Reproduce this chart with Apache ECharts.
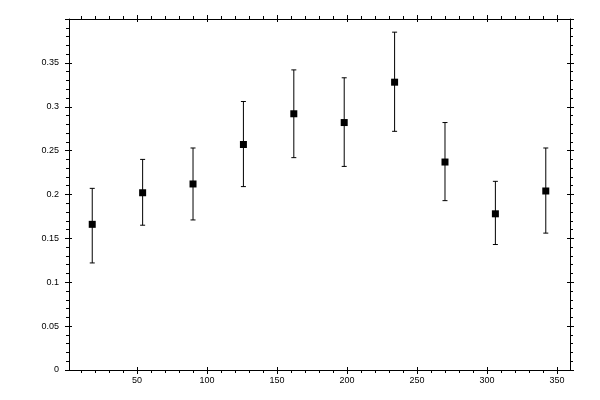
<!DOCTYPE html>
<html>
<head>
<meta charset="utf-8">
<script src="https://cdn.jsdelivr.net/npm/echarts@6/dist/echarts.min.js"></script>
<style>html,body{margin:0;padding:0;background:#fff}#c{width:600px;height:400px}</style>
</head>
<body>
<div id="c"></div>
<script>
// Data
const xValues = [18, 54, 90, 126, 162, 198, 234, 270, 306, 342];
const yValues = [0.166, 0.202, 0.212, 0.257, 0.292, 0.282, 0.328, 0.237, 0.178, 0.204];
const yHigh   = [0.207, 0.240, 0.253, 0.306, 0.342, 0.333, 0.385, 0.282, 0.215, 0.253];
const yLow    = [0.122, 0.165, 0.171, 0.209, 0.242, 0.232, 0.272, 0.193, 0.143, 0.156];
const xMajorTicks = [50, 100, 150, 200, 250, 300, 350];
const xMinorTicks = [10,20,30,40,50,60,70,80,90,100,110,120,130,140,150,160,170,180,190,200,210,220,230,240,250,260,270,280,290,300,310,320,330,340,350];
const X_MIN = 1.4, X_MAX = 359.3;
const Y_MIN = 0, Y_MAX = 0.4, Y_STEP = 0.05;

const FONT = {fontFamily: 'Liberation Sans', fontSize: 9, color: '#000'};
const LINE = {color: '#000', width: 1};

function xAx(pos, kind) {
  const major = kind !== 'minor';
  return {
    type: 'value', position: pos, min: X_MIN, max: X_MAX,
    axisLine: {show: kind === 'major', onZero: false, lineStyle: LINE},
    splitLine: {show: false},
    axisTick: {show: true, inside: kind === 'inner', length: kind === 'minor' ? 3 : (kind === 'inner' ? 3 : 4),
               customValues: major ? xMajorTicks : xMinorTicks, lineStyle: LINE},
    axisLabel: (pos === 'bottom' && kind === 'major')
      ? Object.assign({show: true, margin: 6, customValues: xMajorTicks}, FONT)
      : {show: false}
  };
}
function yAx(pos, kind) {
  return {
    type: 'value', position: pos, min: Y_MIN, max: Y_MAX, interval: Y_STEP,
    axisLine: {show: kind === 'major', onZero: false, lineStyle: LINE},
    splitLine: {show: false},
    axisTick: {show: true, inside: kind === 'inner', length: kind === 'inner' ? 3 : 4, lineStyle: LINE},
    minorTick: {show: kind === 'major', splitNumber: 5, length: 3, lineStyle: LINE},
    axisLabel: (pos === 'left' && kind === 'major')
      ? Object.assign({show: true, margin: 10, showMaxLabel: false,
          formatter: v => (v === 0 ? '0' : String(+v.toFixed(2)))}, FONT)
      : {show: false}
  };
}

const errData = xValues.map((x, i) => [x, yLow[i], yHigh[i]]);
const ptData = xValues.map((x, i) => [x, yValues[i]]);

const chart = echarts.init(document.getElementById('c'), null, {renderer: 'canvas'});
chart.setOption({
  animation: false,
  backgroundColor: '#fff',
  grid: {left: 69, top: 19, right: 30, bottom: 30},
  xAxis: [xAx('bottom','major'), xAx('bottom','minor'), xAx('bottom','inner'),
          xAx('top','major'), xAx('top','minor'), xAx('top','inner')],
  yAxis: [yAx('left','major'), yAx('left','inner'), yAx('right','major'), yAx('right','inner')],
  series: [
    {
      type: 'custom', xAxisIndex: 0, yAxisIndex: 0,
      data: errData,
      encode: {x: 0, y: [1, 2]},
      renderItem: function (params, api) {
        const lo = api.coord([api.value(0), api.value(1)]);
        const hi = api.coord([api.value(0), api.value(2)]);
        const w = 2.5;
        const st = {stroke: '#000', lineWidth: 1};
        return {type: 'group', children: [
          {type: 'line', shape: {x1: lo[0], y1: lo[1], x2: hi[0], y2: hi[1]}, style: st},
          {type: 'line', shape: {x1: lo[0]-w, y1: lo[1], x2: lo[0]+w, y2: lo[1]}, style: st},
          {type: 'line', shape: {x1: hi[0]-w, y1: hi[1], x2: hi[0]+w, y2: hi[1]}, style: st}
        ]};
      },
      z: 2
    },
    {
      type: 'scatter', xAxisIndex: 0, yAxisIndex: 0,
      symbol: 'rect', symbolSize: 7,
      itemStyle: {color: '#000', opacity: 1},
      emphasis: {disabled: true},
      data: ptData, z: 3
    }
  ]
});
</script>
</body>
</html>
